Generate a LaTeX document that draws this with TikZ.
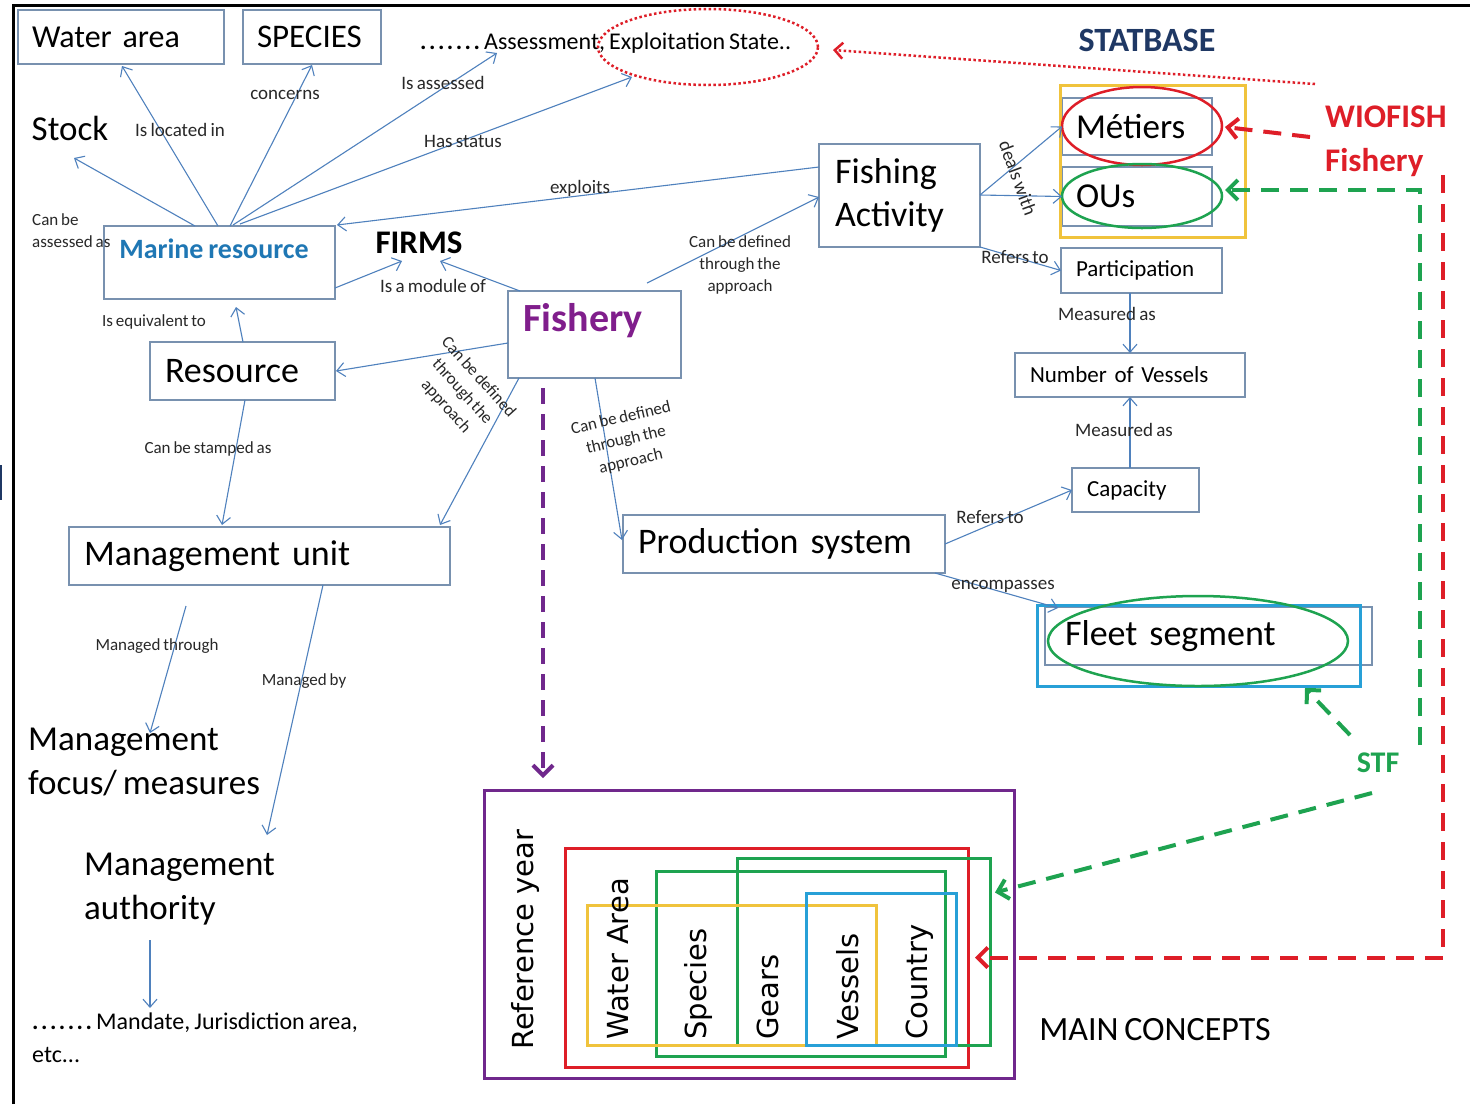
\documentclass[tikz,border=0pt]{standalone}
\usepackage{fontspec}
\setmainfont{Carlito}[WordSpace=0.75]
\newfontfamily\dvs{DejaVu Sans}
\usetikzlibrary{arrows.meta,shapes.geometric}
\definecolor{boxc}{RGB}{120,145,175}
\definecolor{linec}{RGB}{79,129,189}
\definecolor{mrblue}{RGB}{31,119,180}
\definecolor{navy}{RGB}{31,56,100}
\definecolor{fpurple}{RGB}{128,30,140}
\definecolor{purp}{RGB}{112,40,140}
\definecolor{redc}{RGB}{222,30,40}
\definecolor{greenc}{RGB}{30,163,80}
\definecolor{yellowc}{RGB}{240,195,60}
\definecolor{cyanc}{RGB}{40,160,215}
\definecolor{lblc}{RGB}{40,40,40}
\newcommand\fs[2]{\fontsize{#1}{#2}\selectfont}
\newcommand\mydots{\textbf{.\kern2.5pt.\kern2.5pt.\kern2.5pt.\kern2.5pt.\kern2.5pt.\kern2.5pt.}}
\begin{document}
\begin{tikzpicture}[x=1pt,y=-1pt,
  box/.style={draw=boxc, line width=1.1pt, inner ysep=0pt, inner xsep=15pt, outer sep=0pt, align=left, anchor=north west},
  frame/.style={draw=#1, line width=3pt, inner sep=0pt, outer sep=0pt, anchor=north west},
  conn/.style={draw=linec, line width=1.1pt, -{Straight Barb[length=8pt,width=14pt]}},
  lbl/.style={inner sep=0pt, font=\fs{19}{23}, text=lblc},
  sml/.style={inner sep=0pt, font=\fs{17}{22}, align=center, text=lblc},
  rdash/.style={draw=redc, line width=4pt, dash pattern=on 18pt off 11pt},
  gdash/.style={draw=greenc, line width=4pt, dash pattern=on 18pt off 11pt},
  tipbig/.style={-{Straight Barb[length=10pt,width=20pt]}},
  ell/.style={ellipse, line width=2.5pt, inner sep=0pt, outer sep=0pt},
  concept/.style={inner sep=0pt, rotate=90, anchor=west, font=\dvs\fs{29}{34}}
]
\useasboundingbox (0,0) rectangle (1470,1104);
\fill[white] (0,0) rectangle (1470,1104);
% frame
\draw[line width=3pt] (13,1104) -- (13,5) -- (1470,5);
\fill[navy] (0,465) rectangle (2,500);

% top left
\node[box, text width=178pt, inner xsep=14pt, minimum height=54pt, font=\fs{32}{38}] (wa) at (18,10) {Water area};
\node[box, text width=110pt, inner xsep=14pt, minimum height=54pt, font=\fs{33}{40}] (sp) at (243,10) {SPECIES};
\node[inner sep=0pt, anchor=west, font=\fs{24}{29}] (assess) at (420,43) {\mydots\ Assessment, Exploitation State..};
\node[ell, draw=redc, dash pattern=on 2.5pt off 2.5pt, minimum width=220pt, minimum height=76pt] (ellip) at (708,47) {};
\node[inner sep=0pt, font=\bfseries\fs{34}{40}, text=navy] (statbase) at (1147,40) {STATBASE};

\node[inner sep=0pt, font=\fs{35}{42}] (stock) at (70,128) {Stock};
\node[box, minimum width=231pt, minimum height=73pt, inner sep=0pt] (mr) at (104,226) {};
\node[inner sep=0pt, font=\bfseries\fs{28}{34}, text=mrblue] (mrt) at (214,249) {Marine resource};
\node[inner sep=0pt, font=\bfseries\fs{33}{40}] (firms) at (419,243) {FIRMS};
\node[box, minimum width=173pt, minimum height=87pt, inner sep=0pt] (fi) at (508,291) {};
\node[inner sep=0pt, font=\bfseries\fs{40}{48}, text=fpurple] (fit) at (583,321) {Fishery};
\node[box, text width=129pt, inner xsep=16pt, minimum height=103pt, font=\fs{36}{43}] (fa) at (819,144) {Fishing\\Activity};
\node[box, text width=155pt, minimum height=58pt, font=\fs{36}{43}] (res) at (150,342) {Resource};
\node[box, text width=351pt, minimum height=58pt, font=\fs{36}{43}] (mu) at (69,527) {Management unit};
\node[box, text width=292pt, minimum height=58pt, font=\fs{36}{43}] (ps) at (623,515) {Production system};

% right column
\node[box, text width=131pt, minimum height=45pt, font=\fs{23}{28}] (part) at (1061,248) {Participation};
\node[box, text width=200pt, minimum height=44pt, font=\fs{23}{28}] (nv) at (1015,353) {Number of Vessels};
\node[box, text width=97pt, minimum height=44pt, font=\fs{23}{28}] (cap) at (1072,468) {Capacity};
\node[box, text width=122pt, inner xsep=14pt, minimum height=57pt, font=\fs{35}{42}] (me) at (1062,98) {Métiers};
\node[box, text width=122pt, inner xsep=14pt, minimum height=59pt, font=\fs{35}{42}] (ous) at (1062,167) {OUs};
\node[frame=yellowc, minimum width=185pt, minimum height=152pt] (ybox) at (1060,85) {};
\node[ell, draw=redc, minimum width=160pt, minimum height=78pt] (mell) at (1142,126) {};
\node[ell, draw=greenc, minimum width=160pt, minimum height=64pt] (oell) at (1142,196) {};
\node[inner sep=0pt, anchor=north west, align=left, font=\bfseries\fs{33}{44}, text=redc] (wio) at (1325,106) {WIOFISH\\Fishery};

% fleet
\node[box, text width=287pt, inner xsep=20pt, minimum height=58pt, font=\fs{36}{43}] (fs) at (1045,607) {Fleet segment};
\node[frame=cyanc, minimum width=323pt, minimum height=81pt] (fsb) at (1037,605) {};
\node[ell, draw=greenc, minimum width=300pt, minimum height=90pt] (fell) at (1198,641) {};
\node[inner sep=0pt, font=\bfseries\fs{30}{36}, text=greenc] (stf) at (1378,763) {STF};

% management texts
\node[inner sep=0pt, anchor=west, align=left, font=\fs{35}{44}] (mfocus) at (28,762) {Management\\focus/ measures};
\node[inner sep=0pt, anchor=west, align=left, font=\fs{35}{44}] (mauth) at (84,889) {Management\\authority};
\node[inner sep=0pt, anchor=west, align=left, font=\fs{24}{33}] (mand) at (32,1038) {\mydots\ Mandate, Jurisdiction area,\\etc...};

% main concepts
\node[frame=purp, minimum width=530pt, minimum height=288pt] (refy) at (484,790) {};
\node[frame=redc, minimum width=403pt, minimum height=219pt] (redbox) at (565,848) {};
\node[frame=greenc, minimum width=289pt, minimum height=185pt] (greenB) at (656,871) {};
\node[frame=greenc, minimum width=253pt, minimum height=187pt] (greenA) at (737,858) {};
\node[frame=yellowc, minimum width=289pt, minimum height=140pt] (ybox2) at (587,905) {};
\node[frame=cyanc, minimum width=150pt, minimum height=152pt] (cbox) at (806,893) {};
\node[concept] (ry) at (525,1050) {Reference year};
\node[concept] (cwa) at (618,1040) {Water Area};
\node[concept] (csp) at (698,1040) {Species};
\node[concept] (cge) at (768,1040) {Gears};
\node[concept] (cve) at (848,1040) {Vessels};
\node[concept] (cco) at (920,1040) {Country};
\node[inner sep=0pt, font=\fs{34}{40}] (mc) at (1155,1030) {MAIN CONCEPTS};

% connectors
\draw[conn] ([shift={(91,0)}]mr.north west) -- ([shift={(4,30)}]stock.center);
\draw[conn] ([shift={(114,0)}]mr.north west) -- ([shift={(1,2)}]wa.south);
\draw[conn] ([shift={(126,0)}]mr.north west) -- ([shift={(0,1)}]sp.south);
\draw[conn] ([shift={(129,-1)}]mr.north west) -- ([shift={(77,10)}]assess.west);
\draw[conn] ([shift={(136,-2)}]mr.north west) -- ([shift={(-76,30)}]ellip.center);
\draw[conn] ([shift={(0,23)}]fa.north west) -- ([shift={(2,-1)}]mr.north east);
\draw[conn] ([shift={(0,-11)}]mr.south east) -- ([shift={(-17,18)}]firms.center);
\draw[conn] ([shift={(12,0)}]fi.north west) -- ([shift={(21,18)}]firms.center);
\draw[conn] ([shift={(139,-8)}]fi.north west) -- ([shift={(0,53)}]fa.north west);
\draw[conn] ([shift={(0,52)}]fi.north west) -- ([shift={(1,29)}]res.north east);
\draw[conn] ([shift={(11,0)}]fi.south west) -- ([shift={(371,-2)}]mu.north west);
\draw[conn] ([shift={(87,0)}]fi.south west) -- ([shift={(-1,25)}]ps.north west);
\draw[conn] ([shift={(93,0)}]res.north west) -- ([shift={(132,8)}]mr.south west);
\draw[conn] ([shift={(95,0)}]res.south west) -- ([shift={(153,-2)}]mu.north west);
\draw[conn] ([shift={(117,21)}]mu.south west) -- ([shift={(122,-29)}]mfocus.west);
\draw[conn] ([shift={(254,0)}]mu.south west) -- ([shift={(183,-54)}]mauth.west);
\draw[conn] ([shift={(66,51)}]mauth.west) -- ([shift={(118,-30)}]mand.west);
\draw[conn] ([shift={(0,-52)}]fa.south east) -- (me.west);
\draw[conn] ([shift={(0,-52)}]fa.south east) -- (ous.west);
\draw[conn] (fa.south east) -- (part.west);
\draw[conn] ([shift={(-11.5,0)}]part.south) -- (nv.north);
\draw[conn] ([shift={(-5.5,0)}]cap.north) -- (nv.south);
\draw[conn] (ps.east) -- (cap.west);
\draw[conn] ([shift={(-10,0)}]ps.south east) -- ([shift={(21,3)}]fsb.north west);

% labels
\node[lbl] at (180,130) {Is located in};
\node[lbl] at (285,95) {concerns};
\node[lbl] at (443,83) {Is assessed};
\node[lbl] at (463,141) {Has status};
\node[lbl] at (580,188) {exploits};
\node[lbl] at (433,286) {Is a module of};
\node[sml, anchor=west, align=left] at (32,231) {Can be\\assessed as};
\node[sml] at (154,322) {Is equivalent to};
\node[sml] at (208,449) {Can be stamped as};
\node[sml] at (740,265) {Can be defined\\through the\\approach};
\node[sml, rotate=-48] at (462,392) {Can be defined\\through the\\approach};
\node[sml, rotate=13] at (626,440) {Can be defined\\through the\\approach};
\node[lbl, rotate=-70] at (1018,178) {deals with};
\node[lbl] at (1015,257) {Refers to};
\node[lbl] at (1107,314) {Measured as};
\node[lbl] at (1124,430) {Measured as};
\node[lbl] at (990,517) {Refers to};
\node[lbl] at (1003,586) {encompasses};
\node[sml] at (157,646) {Managed through};
\node[sml] at (304,681) {Managed by};

% coloured dashed links
\coordinate (rdotstart) at (1315,84);
\draw[draw=redc, line width=2.5pt, dash pattern=on 2.5pt off 2.5pt, -{Straight Barb[length=8pt,width=16pt]}] (rdotstart) -- ([shift={(15,3)}]ellip.east);
\draw[rdash, tipbig] ([shift={(-15,31)}]wio.north west) -- ([shift={(3,1)}]mell.east);
\draw[rdash, tipbig] ([shift={(118,69)}]wio.north west) |- ([shift={(7,0)}]redbox.east);
\coordinate (gstart) at (1420,745);
\draw[gdash, tipbig] (gstart) |- ([shift={(3,-6)}]oell.east);
\draw[gdash, tipbig] ([shift={(-28,-28)}]stf.center) -- ([shift={(-55,2)}]fsb.south east);
\draw[gdash, tipbig] ([shift={(-6,30)}]stf.center) -- ([shift={(5,-59)}]greenA.east);
\draw[draw=purp, line width=4pt, dash pattern=on 16pt off 10pt, tipbig] ([shift={(35,10)}]fi.south west) -- ([shift={(59,-12)}]refy.north west);
\end{tikzpicture}
\end{document}
